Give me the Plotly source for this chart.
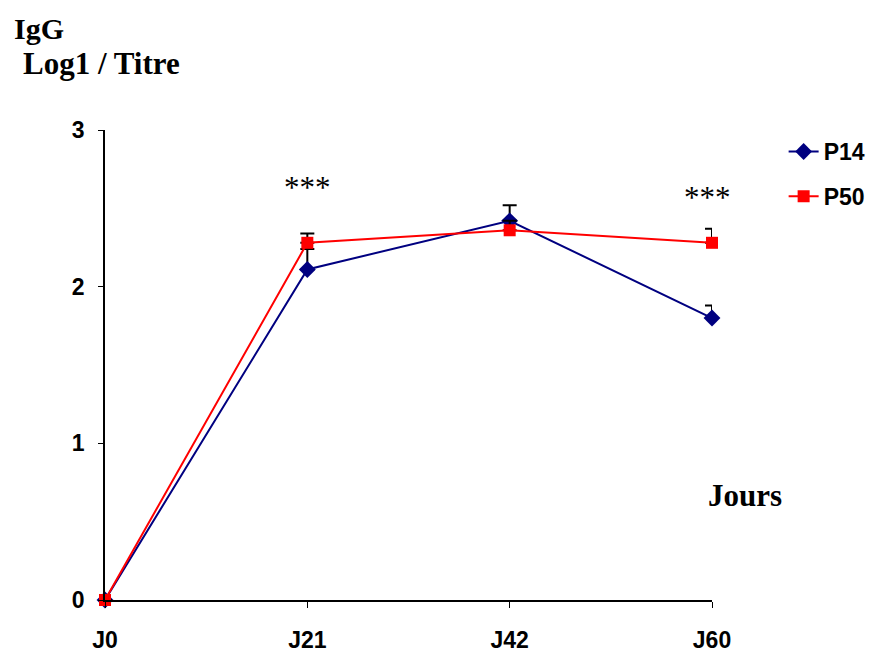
import plotly.graph_objects as go

categories = ["J0", "J21", "J42", "J60"]
p14_values = [0.0, 2.11, 2.42, 1.80]
p14_errors = [0.0, 0.13, 0.10, 0.08]
p50_values = [0.0, 2.28, 2.36, 2.28]
p50_errors = [0.0, 0.06, 0.06, 0.09]
y_ticks = [0, 1, 2, 3]

# page body has an 8px margin; compensate so the plot area sits at x 105-712, y 130-600
OFF = 8
L, R, T, B = 105 - OFF, 875 - 712 + OFF, 130 - OFF, 652 - 600 + OFF

fig = go.Figure()
fig.add_trace(go.Scatter(
    x=categories, y=p14_values, name="P14", mode="lines+markers",
    line=dict(color="#000080", width=2),
    marker=dict(symbol="diamond", size=13, color="#000080"),
    error_y=dict(type="data", array=p14_errors, arrayminus=[0]*4, symmetric=False,
                 color="black", thickness=2, width=7),
    cliponaxis=False, legendgroup="a",
))
fig.add_trace(go.Scatter(
    x=categories, y=p50_values, name="P50", mode="lines+markers",
    line=dict(color="#FF0000", width=2),
    marker=dict(symbol="square", size=12, color="#FF0000"),
    error_y=dict(type="data", array=p50_errors, arrayminus=[0]*4, symmetric=False,
                 color="black", thickness=2, width=7),
    cliponaxis=False, legendgroup="b",
))

tickfont = dict(family="Arial, Liberation Sans", size=23, color="black", weight="bold")
fig.update_layout(
    width=875, height=652,
    margin=dict(l=L, r=R, t=T, b=B, autoexpand=False),
    plot_bgcolor="white", paper_bgcolor="white",
    showlegend=True,
    legend=dict(x=1.118, y=1.0, xanchor="left", yanchor="top",
                font=dict(family="Arial, Liberation Sans", size=23, color="black", weight="bold"),
                tracegroupgap=12, bgcolor="rgba(0,0,0,0)"),
    xaxis=dict(type="category", range=[0, 3], showgrid=False, zeroline=False,
               showline=True, linecolor="black", linewidth=1.5, automargin=False,
               ticks="outside", ticklen=6, tickcolor="black",
               ticklabelstandoff=13, tickfont=tickfont),
    yaxis=dict(range=[0, 3], tickvals=y_ticks, showgrid=False, zeroline=False,
               showline=True, linecolor="black", linewidth=1.5, automargin=False,
               ticks="outside", ticklen=5, tickcolor="black",
               ticklabelstandoff=9, tickfont=tickfont),
)

pw, ph = 607, 470
def px2paper(px, py):
    return (px - 105) / pw, (600 - py) / ph

serif_bold = dict(family="Times New Roman, Liberation Serif", size=30, color="black", weight="bold")
for text, px, py, font in [
    ("IgG", 12, 28, serif_bold),
    ("Log1 / Titre", 21, 63, dict(serif_bold, size=31)),
    ("Jours", 706, 495, dict(family="Times New Roman, Liberation Serif", size=31, color="black", weight="bold")),
]:
    x, y = px2paper(px, py)
    fig.add_annotation(x=x, y=y, xref="paper", yref="paper", text=text, showarrow=False,
                       xanchor="left", yanchor="middle", font=font)

star_font = dict(family="Times New Roman, Liberation Serif", size=31, color="black")
fig.add_annotation(x="J21", y=2.63, xref="x", yref="y", text="***", showarrow=False, font=star_font)
fig.add_annotation(x="J60", y=2.57, xref="x", yref="y", text="***", showarrow=False,
                   xshift=-5, font=star_font)

fig.write_html("out.html")
